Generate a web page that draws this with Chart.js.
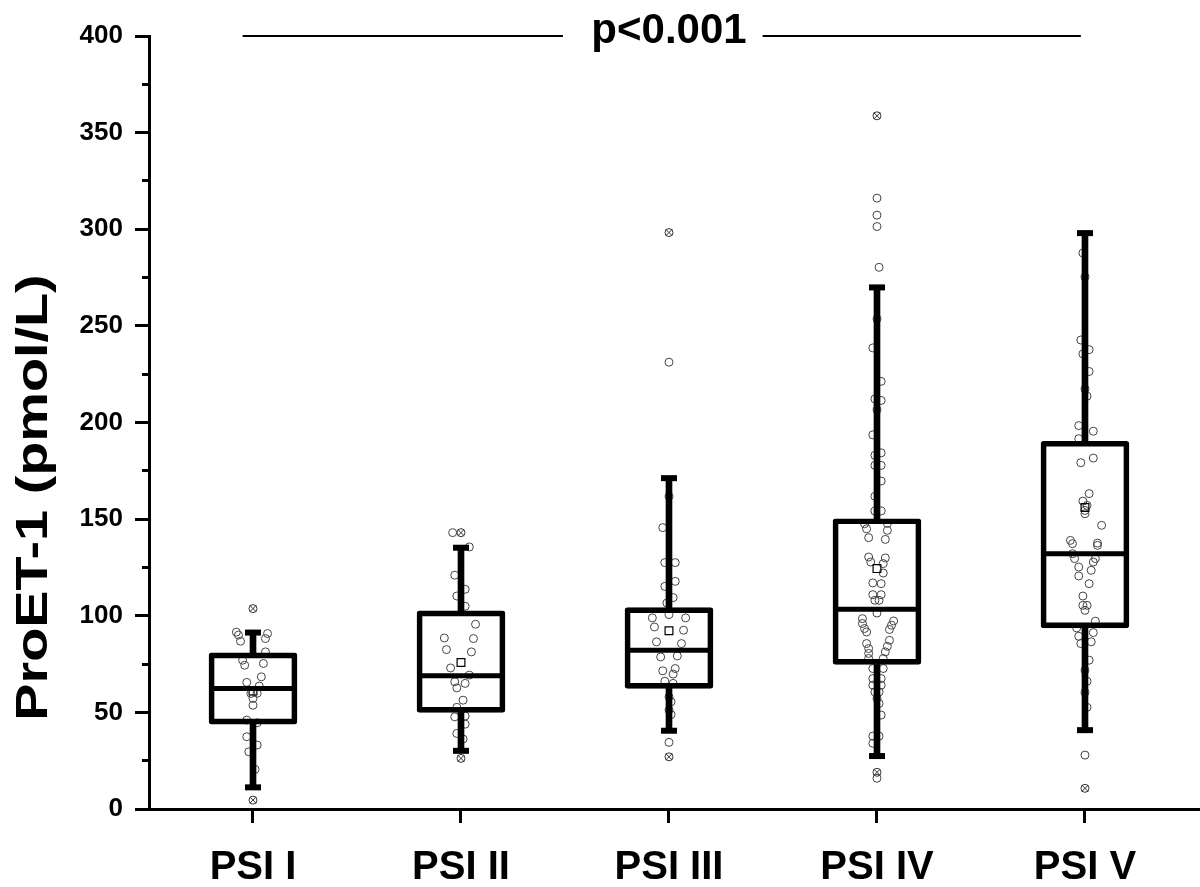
<!DOCTYPE html>
<html>
<head>
<meta charset="utf-8">
<script src="https://cdn.jsdelivr.net/npm/chart.js@4.4.0/dist/chart.umd.min.js"></script>
<style>
  html, body { margin: 0; padding: 0; background: #fff; }
</style>
</head>
<body>
<canvas id="mycanvas" width="1200" height="887"></canvas>
<script>
// カテゴリとテキスト
const categories = ['PSI I', 'PSI II', 'PSI III', 'PSI IV', 'PSI V'];
const yTitle = 'ProET-1 (pmol/L)';
const pText = 'p<0.001';

// 箱ひげ図の値
const whiskerLow = [11.2, 30.1, 40.5, 27.4, 40.8];
const q1 = [43.9, 50.0, 62.4, 74.8, 93.7];
const medians = [62.4, 68.9, 82.2, 103.4, 132.1];
const q3 = [80.8, 102.5, 104.2, 150.2, 190.3];
const whiskerHigh = [91.3, 135.2, 171.2, 269.9, 298.0];
const means = [61.0, 75.8, 92.2, 124.4, 156.0];
const outliers = [[103.7, 4.6], [143.0, 26.2], [298.3, 27.0], [358.7, 19.0], [10.7]];

// 個々の値 [値, 横ずれ(カテゴリ幅の割合)]
const psi1Points = [
  [91.5, -0.08], [90, -0.07], [86.8, -0.06], [90.8, 0.07], [88.2, 0.06], [81.3, 0.06],
  [77, -0.05], [74.4, -0.04], [75.3, 0.05], [68.4, 0.04], [65.5, -0.03], [63.6, 0.03],
  [59.8, -0.01], [57.2, 0], [53.7, 0], [59.9, 0.02], [46, -0.03], [44.6, 0.02],
  [37.4, -0.03], [33.1, 0.02], [29.6, -0.02], [20.5, 0.01]
];
const psi2Points = [
  [143, -0.04], [135.6, 0.04], [121, -0.03], [113.7, 0.02], [110.2, -0.02], [104.9, 0.02],
  [95.6, 0.07], [88.5, -0.08], [88.2, 0.06], [82.5, -0.07], [81.3, 0.05], [73, -0.05],
  [69.3, 0.04], [65.8, -0.03], [62.7, -0.02], [65, 0.02], [56.3, 0.01], [52.6, -0.02],
  [47.7, -0.03], [48.1, 0.02], [43.9, 0.02], [39.1, -0.02], [36.2, 0.01]
];
const psi3Points = [
  [231.2, 0], [161.8, 0], [145.6, -0.03], [127.5, -0.02], [127.5, 0.03], [117.8, 0.03],
  [115.2, -0.02], [109.4, 0.02], [106.6, -0.01], [100.6, 0], [98.9, -0.08], [98.9, 0.08],
  [94.2, -0.07], [92.5, 0.07], [86.5, -0.06], [85.6, 0.06], [78.7, -0.04], [79.2, 0.04],
  [71.5, -0.03], [72.7, 0.03], [69.8, 0.02], [66.1, -0.02], [65, 0.02], [58, 0],
  [55.5, 0.01], [51.2, 0], [48.9, 0.01], [34.5, 0]
];
const psi4Points = [
  [316.1, 0], [307.3, 0], [301.4, 0], [280.3, 0.01], [253.6, 0], [238.6, -0.02],
  [221.3, 0.02], [212.2, -0.01], [211.4, 0.02], [206.6, 0], [193.6, -0.02], [183, -0.01],
  [184.3, 0.02], [177.8, -0.01], [177.8, 0.02], [169.7, 0.02], [161.8, -0.01], [154.2, -0.01],
  [154.2, 0.02], [147.6, -0.06], [145, -0.05], [140.4, -0.04], [147.8, 0.05], [144.2, 0.05],
  [139.5, 0.04], [130.4, -0.04], [127.8, -0.03], [129.9, 0.04], [127, 0.03], [122.1, 0.03],
  [117, -0.02], [116.6, 0.02], [110.9, -0.02], [110.9, 0.02], [108, -0.01], [108, 0.01],
  [101.4, 0], [98.5, -0.07], [96, -0.07], [93.4, -0.06], [91.6, -0.05], [97.3, 0.08],
  [95.1, 0.07], [92.9, 0.06], [85.6, -0.05], [83, -0.04], [80.5, -0.04], [77.9, -0.04],
  [87.3, 0.06], [84.2, 0.05], [81.3, 0.04], [77.9, 0.03], [72.7, -0.02], [72.7, 0.03],
  [67.5, -0.02], [67.5, 0.02], [64.1, -0.02], [64.1, 0.02], [60.6, -0.01], [60.6, 0.01],
  [57.2, 0], [54.6, 0.01], [48.6, 0.02], [37.7, -0.02], [37.7, 0.01], [34, -0.02], [15.9, 0]
];
const psi5Points = [
  [287.7, -0.01], [275.4, 0], [242.7, -0.02], [237.7, 0.02], [235.5, -0.01], [226.4, 0.02],
  [217.4, 0], [213.6, 0.01], [198.4, -0.03], [195.5, 0.04], [191.6, -0.03], [179.2, -0.02],
  [181.6, 0.04], [163.2, 0.02], [159.3, -0.01], [157.1, 0.01], [154.5, 0], [152.8, 0],
  [146.8, 0.08], [139, -0.07], [137.3, -0.06], [137.6, 0.06], [136.4, 0.06], [132.1, -0.06],
  [129.6, -0.05], [129.6, 0.05], [127.8, 0.04], [125.2, -0.03], [123.5, 0.03], [120.6, -0.03],
  [116.6, 0.02], [110.2, -0.01], [105.4, -0.01], [105.4, 0.01], [102.8, 0], [97.2, 0.05],
  [93.7, -0.04], [91.3, 0.04], [89.4, -0.03], [85.6, -0.02], [86.5, 0.03], [77, 0.02],
  [71.8, 0], [66.1, 0.01], [60.3, 0], [52.6, 0.01], [27.9, 0]
];

// p値の横線 (x位置)
const pLineX = [0.95, 2.49, 3.45, 4.98];
const pLineY = 400;

const FONT = '"Liberation Sans", Arial, sans-serif';

// 散布点データ作成
const allPoints = [psi1Points, psi2Points, psi3Points, psi4Points, psi5Points];
const scatterData = [];
allPoints.forEach((pts, i) => {
  pts.forEach(p => scatterData.push({ x: i + 1 + p[1], y: p[0] }));
});
const outlierData = [];
outliers.forEach((vals, i) => {
  vals.forEach(v => outlierData.push({ x: i + 1, y: v }));
});
const capData = [];
categories.forEach((c, i) => {
  capData.push({ x: i + 1, y: whiskerLow[i] });
  capData.push({ x: i + 1, y: whiskerHigh[i] });
});

// テキスト描画
const textPlugin = {
  id: 'texts',
  afterDraw(chart) {
    const { ctx, chartArea, scales } = chart;
    ctx.save();
    ctx.fillStyle = '#000';
    ctx.textAlign = 'center';
    ctx.textBaseline = 'alphabetic';
    ctx.font = 'bold 42px ' + FONT;
    ctx.fillText(pText, scales.x.getPixelForValue(3), chartArea.top + 7);
    // 縦軸タイトル
    ctx.translate(47, (chartArea.top + chartArea.bottom) / 2 + 75);
    ctx.rotate(-Math.PI / 2);
    ctx.scale(1.24, 1);
    ctx.font = 'bold 45px ' + FONT;
    ctx.fillText(yTitle, 0, 0);
    ctx.restore();
  }
};

const ctx = document.querySelector('#mycanvas').getContext('2d');
const myChart = new Chart(ctx, {
  type: 'scatter',
  data: {
    datasets: [
      {
        type: 'scatter',
        data: scatterData,
        pointRadius: 4,
        borderColor: '#444',
        borderWidth: 1,
        backgroundColor: 'rgba(0,0,0,0)',
        order: 5
      },
      {
        type: 'bar',
        data: categories.map((c, i) => ({ x: i + 1, y: [whiskerLow[i], q1[i]] })),
        backgroundColor: '#000',
        barThickness: 6,
        grouped: false,
        order: 2
      },
      {
        type: 'bar',
        data: categories.map((c, i) => ({ x: i + 1, y: [q3[i], whiskerHigh[i]] })),
        backgroundColor: '#000',
        barThickness: 6,
        grouped: false,
        order: 2
      },
      {
        type: 'bar',
        data: categories.map((c, i) => ({ x: i + 1, y: [q1[i], q3[i]] })),
        backgroundColor: 'rgba(0,0,0,0)',
        borderColor: '#000',
        borderWidth: 5,
        borderSkipped: false,
        borderRadius: 3,
        barThickness: 88,
        grouped: false,
        order: 1
      },
      {
        type: 'scatter',
        data: categories.map((c, i) => ({ x: i + 1, y: medians[i] })),
        pointStyle: 'line',
        pointRadius: 44,
        borderColor: '#000',
        borderWidth: 5,
        order: 1
      },
      {
        type: 'scatter',
        data: capData,
        pointStyle: 'line',
        pointRadius: 8,
        borderColor: '#000',
        borderWidth: 6,
        order: 1
      },
      {
        type: 'scatter',
        data: categories.map((c, i) => ({ x: i + 1, y: means[i] })),
        pointStyle: 'rect',
        pointRadius: 5.5,
        borderColor: '#000',
        borderWidth: 1.2,
        backgroundColor: 'rgba(0,0,0,0)',
        order: 0
      },
      {
        type: 'scatter',
        data: outlierData,
        pointRadius: 4,
        borderColor: '#333',
        borderWidth: 1,
        backgroundColor: 'rgba(0,0,0,0)',
        order: 0
      },
      {
        type: 'scatter',
        data: outlierData,
        pointStyle: 'crossRot',
        pointRadius: 4.5,
        borderColor: '#333',
        borderWidth: 1,
        order: 0
      },
      {
        type: 'line',
        data: [
          { x: pLineX[0], y: pLineY }, { x: pLineX[1], y: pLineY },
          { x: (pLineX[1] + pLineX[2]) / 2, y: null },
          { x: pLineX[2], y: pLineY }, { x: pLineX[3], y: pLineY }
        ],
        borderColor: '#000',
        borderWidth: 2,
        pointRadius: 0,
        spanGaps: false,
        clip: false,
        order: 0
      }
    ]
  },
  options: {
    responsive: false,
    animation: false,
    devicePixelRatio: 1,
    layout: { autoPadding: false, padding: { top: 36, right: 0, left: 0, bottom: 0 } },
    plugins: {
      legend: { display: false },
      tooltip: { enabled: false }
    },
    scales: {
      x: {
        type: 'linear',
        min: 0.5,
        max: 5.553,
        offset: false,
        afterBuildTicks(scale) {
          scale.ticks = categories.map((c, i) => ({ value: i + 1 }));
        },
        ticks: {
          callback: v => categories[Math.round(v) - 1],
          color: '#000',
          font: { family: FONT, size: 40, weight: 'bold' },
          padding: 21,
          maxRotation: 0,
          autoSkip: false
        },
        grid: { drawOnChartArea: false, tickLength: 14, tickWidth: 3, tickColor: '#000', offset: false },
        border: { display: true, width: 3, color: '#000' },
        afterFit(scale) { scale.height = 78; }
      },
      y: {
        type: 'linear',
        position: 'left',
        min: 0,
        max: 400,
        weight: 1,
        ticks: {
          stepSize: 50,
          color: '#000',
          font: { family: FONT, size: 26, weight: 'bold' },
          padding: 12
        },
        grid: { drawOnChartArea: false, tickLength: 14, tickWidth: 3, tickColor: '#000' },
        border: { display: true, width: 3, color: '#000' },
        afterFit(scale) { scale.width = 149; }
      },
      // 補助目盛り
      yMinor: {
        type: 'linear',
        position: 'left',
        min: 0,
        max: 400,
        weight: 0,
        ticks: { display: false, stepSize: 25 },
        grid: { drawOnChartArea: false, tickLength: 7, tickWidth: 3, tickColor: '#000' },
        border: { display: false },
        afterFit(scale) { scale.width = 0; }
      }
    }
  },
  plugins: [textPlugin]
});
</script>
</body>
</html>
